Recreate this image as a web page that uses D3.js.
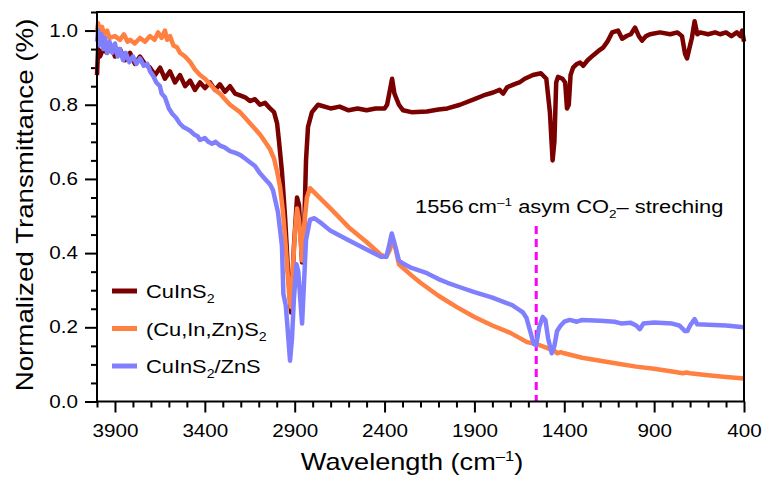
<!DOCTYPE html>
<html>
<head>
<meta charset="utf-8">
<script src="https://cdn.jsdelivr.net/npm/d3@7"></script>
<style>
  body { margin: 0; background: #fff; }
  svg text { font-family: "Liberation Sans", Arial, sans-serif; fill: #000; }
</style>
</head>
<body>
<div id="chart"></div>
<script>
const width = 769;
const height = 482;
const margin = { top: 12, right: 25, bottom: 80.5, left: 97 };
const stretch = 1.18; // the reference font is wide for its height

// CuInS2 : wavenumber (cm-1) / normalized transmittance
const cisWn = [4000, 3994, 3983, 3967, 3944, 3922, 3900, 3872, 3844, 3816, 3789, 3761, 3733, 3705,
  3677, 3649, 3622, 3594, 3566, 3538, 3510, 3482, 3455, 3427, 3399, 3371, 3343, 3316, 3288, 3260,
  3232, 3204, 3176, 3149, 3121, 3093, 3065, 3037, 3015, 2998, 2987, 2971, 2954, 2937, 2920, 2904,
  2887, 2876, 2859, 2848, 2837, 2826, 2804, 2770, 2700, 2650, 2600, 2550, 2500, 2450, 2400, 2386,
  2370, 2358, 2345, 2320, 2297, 2250, 2164, 2100, 2050, 1980, 1900, 1850, 1796, 1760, 1740, 1718,
  1680, 1650, 1620, 1574, 1530, 1500, 1480, 1465, 1455, 1445, 1435, 1410, 1395, 1385, 1375, 1365,
  1351, 1330, 1312, 1295, 1270, 1240, 1210, 1184, 1160, 1134, 1101, 1078, 1051, 1030, 1006, 985,
  967, 945, 923, 867, 811, 770, 745, 728, 717, 700, 690, 675, 660, 644, 600, 560, 533, 500, 470,
  440, 420, 410, 400];
const cisT = [0.88, 0.95, 0.93, 0.95, 0.94, 0.96, 0.93, 0.95, 0.92, 0.94, 0.91, 0.93, 0.91, 0.90,
  0.88, 0.90, 0.87, 0.89, 0.86, 0.88, 0.85, 0.865, 0.84, 0.86, 0.845, 0.86, 0.84, 0.855, 0.835, 0.85,
  0.83, 0.825, 0.82, 0.81, 0.815, 0.80, 0.805, 0.79, 0.78, 0.75, 0.70, 0.62, 0.50, 0.35, 0.24, 0.42,
  0.55, 0.53, 0.375, 0.45, 0.65, 0.74, 0.78, 0.80, 0.79, 0.795, 0.785, 0.79, 0.785, 0.79, 0.79, 0.80,
  0.84, 0.87, 0.83, 0.80, 0.785, 0.78, 0.782, 0.787, 0.79, 0.80, 0.815, 0.825, 0.833, 0.84, 0.83, 0.847,
  0.855, 0.86, 0.87, 0.88, 0.885, 0.87, 0.78, 0.65, 0.70, 0.86, 0.875, 0.87, 0.86, 0.79, 0.80, 0.88,
  0.90, 0.91, 0.914, 0.905, 0.92, 0.933, 0.945, 0.954, 0.97, 0.995, 1.0, 0.978, 0.986, 0.99, 1.008, 0.985,
  0.973, 0.985, 0.99, 0.995, 0.99, 0.995, 0.985, 0.937, 0.925, 0.96, 0.98, 1.025, 0.99, 0.995, 0.99, 0.995, 0.99, 0.995, 0.985,
  0.995, 0.985, 1.0, 0.97];

// (Cu,In,Zn)S2
const cizsWn = [4000, 3994, 3985, 3972, 3960, 3944, 3930, 3900, 3872, 3850, 3830, 3816, 3790, 3761,
  3733, 3705, 3680, 3660, 3640, 3622, 3610, 3594, 3575, 3555, 3538, 3510, 3482, 3455, 3427, 3399,
  3371, 3343, 3316, 3288, 3260, 3232, 3204, 3176, 3149, 3121, 3093, 3065, 3037, 3015, 2998, 2982,
  2965, 2950, 2940, 2928, 2920, 2910, 2898, 2887, 2876, 2859, 2848, 2832, 2815, 2804, 2700, 2600,
  2500, 2420, 2390, 2370, 2358, 2340, 2320, 2297, 2250, 2200, 2100, 2000, 1900, 1800, 1700, 1607,
  1556, 1500, 1450, 1440, 1420, 1400, 1300, 1200, 1100, 1000, 900, 800, 740, 720, 700, 600, 500, 400];
const cizsT = [1.0, 1.02, 1.0, 1.01, 0.99, 1.0, 0.98, 0.985, 0.975, 0.99, 0.97, 0.975, 0.965, 0.98,
  0.97, 0.985, 0.975, 0.995, 0.98, 1.0, 0.975, 0.985, 0.96, 0.955, 0.94, 0.93, 0.915, 0.895, 0.88, 0.87,
  0.855, 0.84, 0.83, 0.815, 0.80, 0.79, 0.78, 0.765, 0.75, 0.735, 0.72, 0.70, 0.68, 0.655, 0.62, 0.58,
  0.51, 0.42, 0.35, 0.27, 0.255, 0.36, 0.46, 0.52, 0.49, 0.38, 0.47, 0.55, 0.575, 0.57, 0.52, 0.47,
  0.43, 0.395, 0.39, 0.41, 0.43, 0.415, 0.37, 0.36, 0.34, 0.32, 0.285, 0.255, 0.228, 0.205, 0.185, 0.16,
  0.155, 0.145, 0.135, 0.13, 0.133, 0.13, 0.118, 0.11, 0.102, 0.094, 0.088, 0.081, 0.076, 0.078, 0.076, 0.071, 0.066, 0.062];

// CuInS2/ZnS
const cszWn = [4000, 3994, 3985, 3975, 3965, 3955, 3944, 3930, 3915, 3900, 3885, 3872, 3855, 3840,
  3820, 3800, 3780, 3761, 3740, 3720, 3705, 3690, 3670, 3650, 3640, 3622, 3600, 3580, 3560, 3540,
  3520, 3500, 3482, 3460, 3440, 3427, 3400, 3380, 3360, 3340, 3316, 3290, 3260, 3230, 3204, 3176,
  3149, 3121, 3093, 3065, 3037, 3021, 2993, 2971, 2963, 2950, 2940, 2926, 2915, 2904, 2890, 2880,
  2865, 2859, 2850, 2837, 2815, 2790, 2750, 2700, 2600, 2500, 2420, 2390, 2375, 2360, 2345, 2320,
  2297, 2250, 2164, 2100, 2050, 1980, 1900, 1800, 1720, 1690, 1660, 1630, 1610, 1590, 1570, 1556,
  1540, 1520, 1505, 1490, 1470, 1455, 1440, 1420, 1400, 1370, 1330, 1300, 1200, 1120, 1080, 1030,
  1000, 980, 960, 900, 800, 760, 728, 715, 700, 675, 660, 600, 500, 400];
const cszT = [0.97, 1.0, 0.96, 0.99, 0.95, 0.98, 0.94, 0.97, 0.94, 0.965, 0.93, 0.95, 0.92, 0.94,
  0.915, 0.93, 0.91, 0.925, 0.905, 0.91, 0.89, 0.88, 0.86, 0.85, 0.83, 0.82, 0.79, 0.775, 0.765, 0.75,
  0.74, 0.735, 0.73, 0.72, 0.715, 0.705, 0.71, 0.70, 0.695, 0.70, 0.69, 0.685, 0.675, 0.67, 0.665, 0.655,
  0.645, 0.635, 0.615, 0.60, 0.585, 0.57, 0.51, 0.42, 0.29, 0.26, 0.20, 0.11, 0.17, 0.28, 0.37, 0.35,
  0.25, 0.21, 0.30, 0.435, 0.49, 0.494, 0.48, 0.46, 0.435, 0.41, 0.39, 0.39, 0.42, 0.453, 0.427, 0.38,
  0.372, 0.36, 0.346, 0.33, 0.32, 0.308, 0.295, 0.28, 0.265, 0.26, 0.25, 0.24, 0.225, 0.19, 0.155, 0.152,
  0.20, 0.228, 0.22, 0.17, 0.13, 0.15, 0.19, 0.205, 0.215, 0.22, 0.215, 0.22, 0.218, 0.215, 0.21, 0.212,
  0.205, 0.195, 0.21, 0.213, 0.21, 0.205, 0.19, 0.19, 0.205, 0.222, 0.208, 0.207, 0.205, 0.2];

const seriesNames = ["CuInS", "(Cu,In,Zn)S", "CuInS"];
const seriesColors = ["#7b0000", "#ff8040", "#8080ff"];
const xMajorTicks = [3900, 3400, 2900, 2400, 1900, 1400, 900, 400];
const yMajorTicks = [0.0, 0.2, 0.4, 0.6, 0.8, 1.0];
const markerWn = 1556;

const series = [
  { wn: cisWn, t: cisT },
  { wn: cizsWn, t: cizsT },
  { wn: cszWn, t: cszT }
];

const innerW = width - margin.left - margin.right;
const innerH = height - margin.top - margin.bottom;

const svg = d3
  .select("#chart")
  .append("svg")
  .attr("width", width)
  .attr("height", height)
  .append("g")
  .attr("transform", `translate(${margin.left},${margin.top})`);

const xScale = d3.scaleLinear().domain([4000, 400]).range([0, innerW]);
const yScale = d3.scaleLinear().domain([0, 1.05]).range([innerH, 0]);

// minor ticks
svg
  .append("g")
  .attr("transform", `translate(0,${innerH})`)
  .call(
    d3.axisBottom(xScale)
      .tickValues(d3.range(400, 4001, 100).filter((v) => !xMajorTicks.includes(v)))
      .tickSize(6)
      .tickFormat("")
  );
svg
  .append("g")
  .call(
    d3.axisLeft(yScale)
      .tickValues(d3.range(1, 22, 1).map((i) => i * 0.05).filter((v, i) => (i + 1) % 4 !== 0))
      .tickSize(6)
      .tickFormat("")
  );

// major ticks
const xAxis = svg
  .append("g")
  .attr("transform", `translate(0,${innerH})`)
  .call(d3.axisBottom(xScale).tickValues(xMajorTicks).tickSize(11).tickFormat(d3.format("d")));
xAxis.selectAll("text")
  .attr("y", 23.5)
  .attr("font-size", "17.5px")
  .attr("transform", `scale(${stretch},1)`);

const yAxis = svg
  .append("g")
  .call(d3.axisLeft(yScale).tickValues(yMajorTicks).tickSize(12).tickFormat(d3.format(".1f")));
yAxis.selectAll("text")
  .attr("x", -19 / stretch)
  .attr("font-size", "17.5px")
  .attr("transform", `scale(${stretch},1)`);

svg.selectAll(".domain").remove();
svg.selectAll(".tick line").attr("stroke", "#000").attr("stroke-width", 2);

// dashed marker
svg
  .append("line")
  .attr("x1", xScale(markerWn))
  .attr("x2", xScale(markerWn))
  .attr("y1", 214)
  .attr("y2", innerH)
  .attr("stroke", "#ff00ff")
  .attr("stroke-width", 3)
  .attr("stroke-dasharray", "8,5");

// spectra
const line = d3
  .line()
  .x((d) => xScale(d[0]))
  .y((d) => yScale(d[1]));

series.forEach((s, i) => {
  svg
    .append("path")
    .datum(s.wn.map((w, j) => [w, s.t[j]]))
    .attr("d", line)
    .attr("fill", "none")
    .attr("stroke", seriesColors[i])
    .attr("stroke-width", 4.5)
    .attr("stroke-linejoin", "round");
});

// frame
svg
  .append("rect")
  .attr("width", innerW)
  .attr("height", innerH)
  .attr("fill", "none")
  .attr("stroke", "#000")
  .attr("stroke-width", 2);

// legend
const legend = svg.append("g").attr("transform", "translate(15,279)");
seriesColors.forEach((c, i) => {
  const g = legend.append("g").attr("transform", `translate(0,${i * 37.5})`);
  g.append("line")
    .attr("x1", 0)
    .attr("x2", 25)
    .attr("stroke", c)
    .attr("stroke-width", 5);
  const t = g
    .append("text")
    .attr("transform", `translate(34,7) scale(${stretch},1)`)
    .attr("font-size", "18.5px");
  t.append("tspan").text(seriesNames[i]);
  t.append("tspan").attr("font-size", "12px").attr("dy", 5).text("2");
  if (i === 2) t.append("tspan").attr("dy", -5).text("/ZnS");
});

// annotation
const note = svg
  .append("text")
  .attr("transform", `translate(${415 - margin.left},${213 - margin.top}) scale(${stretch},1)`)
  .attr("font-size", "18.5px");
note.append("tspan").text("1556\u2009cm");
note.append("tspan").attr("font-size", "11.5px").attr("dy", -7).text("\u20131");
note.append("tspan").attr("dy", 7).text(" asym CO");
note.append("tspan").attr("font-size", "11.5px").attr("dy", 5).text("2");
note.append("tspan").attr("dy", -5).text("\u2013 streching");

// axis titles
const xTitle = svg
  .append("text")
  .attr("transform", `translate(${412 - margin.left},${470 - margin.top}) scale(${stretch},1)`)
  .attr("text-anchor", "middle")
  .attr("font-size", "23px");
xTitle.append("tspan").text("Wavelength (cm");
xTitle.append("tspan").attr("font-size", "14px").attr("dy", -9).text("\u20131");
xTitle.append("tspan").attr("dy", 9).text(")");

svg
  .append("text")
  .attr("transform", `translate(${33 - margin.left},${205 - margin.top}) rotate(-90) scale(${stretch},1)`)
  .attr("text-anchor", "middle")
  .attr("font-size", "23.5px")
  .text("Normalized Transmittance (%)");
</script>
</body>
</html>
